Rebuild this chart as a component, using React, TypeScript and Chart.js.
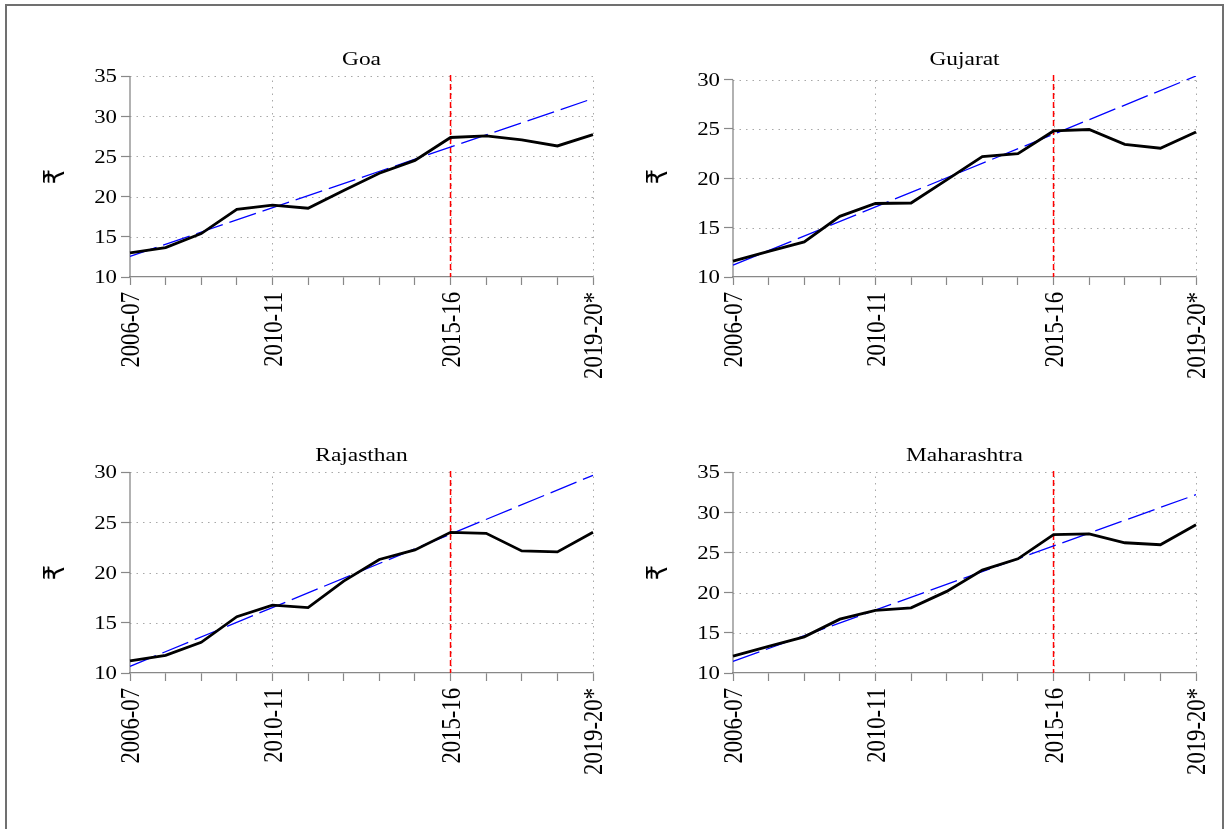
import React, { useEffect, useRef } from 'react';
import { Chart, registerables } from 'chart.js';

Chart.register(...registerables);

const categories = [
  '2006-07', '2007-08', '2008-09', '2009-10', '2010-11', '2011-12', '2012-13',
  '2013-14', '2014-15', '2015-16', '2016-17', '2017-18', '2018-19', '2019-20*',
];
const shownTicks = ['2006-07', '2010-11', '2015-16', '2019-20*'];
const referenceYear = '2015-16';
const yAxisTitle = '₹';

const panelTitles = ['Goa', 'Gujarat', 'Rajasthan', 'Maharashtra'];

const goaValues = [13.0, 13.65, 15.4, 18.4, 18.95, 18.55, 20.75, 22.9, 24.5, 27.35, 27.55, 27.05, 26.3, 27.7];
const gujaratValues = [11.6, 12.6, 13.55, 16.15, 17.45, 17.5, 19.85, 22.2, 22.5, 24.8, 24.95, 23.45, 23.05, 24.7];
const rajasthanValues = [11.2, 11.75, 13.05, 15.6, 16.75, 16.5, 19.15, 21.3, 22.25, 24.0, 23.9, 22.15, 22.05, 24.0];
const maharashtraValues = [12.1, 13.3, 14.5, 16.7, 17.8, 18.1, 20.15, 22.8, 24.2, 27.2, 27.3, 26.2, 25.95, 28.45];

// trend line: value at first and last category
const goaTrend = [12.57, 32.2];
const gujaratTrend = [11.2, 30.37];
const rajasthanTrend = [10.66, 29.67];
const maharashtraTrend = [11.45, 32.18];

const yMin = [10, 10, 10, 10];
const yMax = [35, 30.37, 30, 35];

const panelValues = [goaValues, gujaratValues, rajasthanValues, maharashtraValues];
const panelTrends = [goaTrend, gujaratTrend, rajasthanTrend, maharashtraTrend];

const SERIF = '"Liberation Serif", "Times New Roman", serif';
const STRETCH = 1.2;

const CANVAS_W = 620;
const CANVAS_H = 370;

const decorPlugin = {
  id: 'decor',
  beforeDatasetsDraw(chart: any) {
    const { ctx, chartArea: a, scales } = chart;
    const x = scales.x;
    const y = scales.y;
    ctx.save();
    // dotted grid
    ctx.lineWidth = 1;
    ctx.strokeStyle = '#a8a8a8';
    ctx.setLineDash([1.5, 5]);
    y.ticks.forEach((t: any, i: number) => {
      if (i === 0) return;
      const py = Math.round(y.getPixelForValue(t.value)) + 0.5;
      ctx.beginPath();
      ctx.moveTo(a.left, py);
      ctx.lineTo(a.right, py);
      ctx.stroke();
    });
    shownTicks.slice(1).forEach((c) => {
      const px = Math.round(x.getPixelForValue(categories.indexOf(c))) + 0.5;
      ctx.beginPath();
      ctx.moveTo(px, a.bottom);
      ctx.lineTo(px, a.top);
      ctx.stroke();
    });
    // y axis line between first and last tick
    ctx.setLineDash([]);
    ctx.strokeStyle = '#888888';
    ctx.lineWidth = 1.3;
    const t0 = y.ticks[0].value;
    const t1 = y.ticks[y.ticks.length - 1].value;
    ctx.beginPath();
    ctx.moveTo(a.left, y.getPixelForValue(t0));
    ctx.lineTo(a.left, y.getPixelForValue(t1));
    ctx.stroke();
    // reference vertical line
    const rx = x.getPixelForValue(categories.indexOf(referenceYear));
    ctx.strokeStyle = '#ff0000';
    ctx.lineWidth = 1.5;
    ctx.setLineDash([6, 3]);
    ctx.beginPath();
    ctx.moveTo(rx, a.top - 1);
    ctx.lineTo(rx, a.bottom);
    ctx.stroke();
    ctx.restore();
  },
  afterDraw(chart: any) {
    const { ctx, chartArea: a, scales } = chart;
    const x = scales.x;
    const y = scales.y;
    const title = chart.options.plugins.decor.title;
    ctx.save();
    ctx.fillStyle = '#000';

    // panel title
    ctx.save();
    ctx.translate((a.left + a.right) / 2, a.top - 11);
    ctx.scale(STRETCH, 1);
    ctx.font = `19.5px ${SERIF}`;
    ctx.textAlign = 'center';
    ctx.textBaseline = 'alphabetic';
    ctx.fillText(title, 0, 0);
    ctx.restore();

    // y tick labels
    const yf = 19;
    y.ticks.forEach((t: any) => {
      const py = y.getPixelForValue(t.value);
      ctx.save();
      ctx.translate(a.left - 13, py + yf * 0.338);
      ctx.scale(STRETCH, 1);
      ctx.font = `${yf}px ${SERIF}`;
      ctx.textAlign = 'right';
      ctx.textBaseline = 'alphabetic';
      ctx.fillText(String(t.value), 0, 0);
      ctx.restore();
    });

    // x tick labels (rotated)
    const xf = 22.7;
    shownTicks.forEach((c) => {
      const px = x.getPixelForValue(categories.indexOf(c));
      ctx.save();
      ctx.translate(px, a.bottom + 15);
      ctx.rotate(-Math.PI / 2);
      ctx.scale(1, STRETCH);
      ctx.font = `${xf}px ${SERIF}`;
      ctx.textAlign = 'right';
      ctx.textBaseline = 'alphabetic';
      ctx.fillText(c, 0, xf * 0.338);
      ctx.restore();
    });

    // y axis title
    ctx.save();
    ctx.translate(a.left - 73, (a.top + a.bottom) / 2);
    ctx.rotate(-Math.PI / 2);
    ctx.scale(1, STRETCH);
    ctx.font = '24px "DejaVu Sans", sans-serif';
    ctx.textAlign = 'center';
    ctx.textBaseline = 'middle';
    ctx.fillText(yAxisTitle, 0, 0);
    ctx.restore();

    ctx.restore();
  },
};

function Panel({ index, left, top }: { index: number; left: number; top: number }) {
  const ref = useRef<HTMLCanvasElement>(null);
  useEffect(() => {
    if (!ref.current) return;
    const values = panelValues[index];
    const trend = panelTrends[index];
    const last = categories.length - 1;
    const trendData = categories.map((_, i) => (i === 0 ? trend[0] : i === last ? trend[1] : null));
    const chart = new Chart(ref.current, {
      type: 'line',
      data: {
        labels: categories,
        datasets: [
          {
            data: values,
            borderColor: '#000000',
            borderWidth: 2.8,
            pointRadius: 0,
            tension: 0,
            order: 0,
          },
          {
            data: trendData,
            borderColor: '#0000ff',
            borderWidth: 1.3,
            borderDash: [28, 7],
            pointRadius: 0,
            spanGaps: true,
            tension: 0,
            order: 1,
          },
        ],
      },
      options: {
        animation: false,
        responsive: false,
        devicePixelRatio: 1,
        layout: { padding: { top: 36, right: 27, left: 0, bottom: 0 } },
        plugins: {
          legend: { display: false },
          tooltip: { enabled: false },
          title: { display: false },
          decor: { title: panelTitles[index] },
        } as any,
        scales: {
          x: {
            type: 'category',
            offset: false,
            border: { display: true, color: '#888888', width: 1.3 },
            grid: {
              drawOnChartArea: false,
              drawTicks: true,
              tickLength: 8,
              tickColor: '#888888',
              tickWidth: 1.2,
            },
            ticks: { display: false, autoSkip: false },
            afterFit: (s: any) => {
              s.height = 133;
            },
          },
          y: {
            type: 'linear',
            min: yMin[index],
            max: yMax[index],
            border: { display: false },
            grid: {
              drawOnChartArea: false,
              drawTicks: true,
              tickLength: 9,
              tickColor: '#888888',
              tickWidth: 1.2,
            },
            ticks: { display: false, stepSize: 5, includeBounds: false },
            afterFit: (s: any) => {
              s.width = 130;
            },
          },
        },
      },
      plugins: [decorPlugin],
    } as any);
    return () => chart.destroy();
  }, [index]);
  return (
    <canvas
      ref={ref}
      width={CANVAS_W}
      height={CANVAS_H}
      style={{ position: 'absolute', left, top, width: CANVAS_W, height: CANVAS_H, display: 'block' }}
    />
  );
}

export default function App() {
  return (
    <div
      style={{
        position: 'absolute',
        left: 0,
        top: 0,
        width: 1230,
        height: 829,
        overflow: 'hidden',
        background: '#fff',
      }}
    >
      <div
        style={{
          position: 'absolute',
          left: 5,
          top: 4,
          width: 1219,
          height: 900,
          boxSizing: 'border-box',
          border: '2px solid #707070',
        }}
      />
      <Panel index={0} left={0} top={40} />
      <Panel index={1} left={603} top={40} />
      <Panel index={2} left={0} top={436} />
      <Panel index={3} left={603} top={436} />
    </div>
  );
}
